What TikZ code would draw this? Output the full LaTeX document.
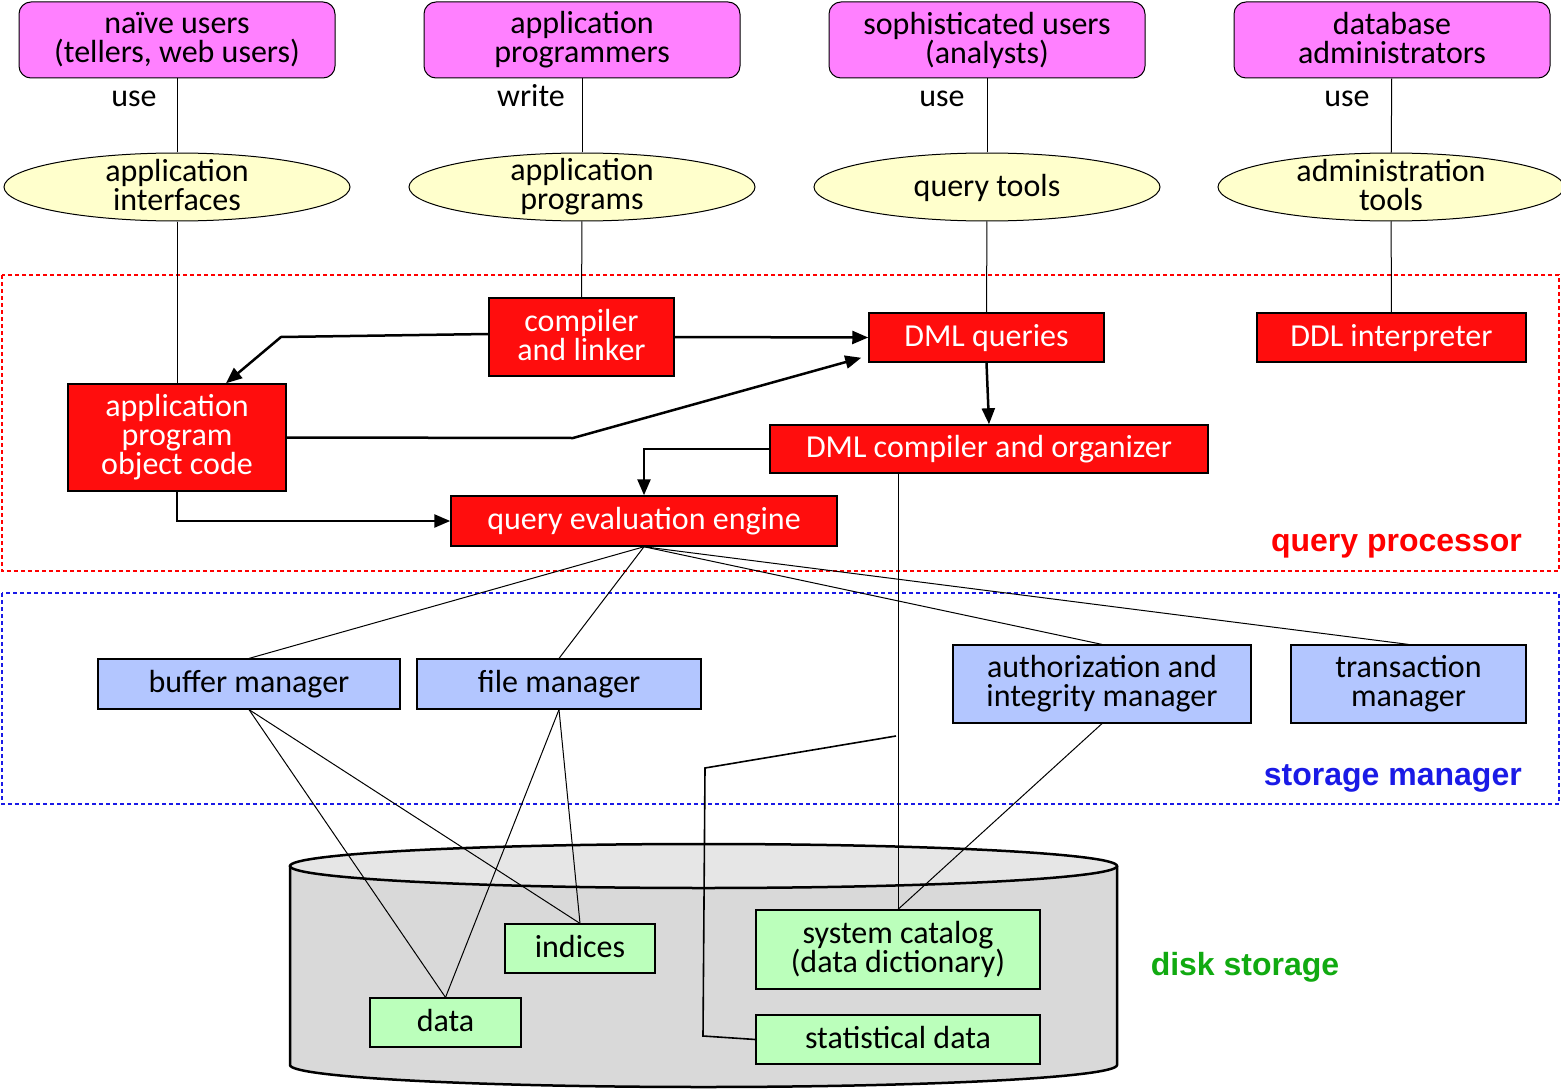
\documentclass[tikz,border=0pt]{standalone}
\usepackage{fontspec}
\setmainfont{Carlito}
\newfontfamily\labfont{Liberation Sans}
\usetikzlibrary{shapes.geometric,arrows.meta}
\definecolor{userfill}{HTML}{FF80FF}
\definecolor{toolfill}{HTML}{FFFFCC}
\definecolor{qpfill}{HTML}{FF0D0D}
\definecolor{smfill}{HTML}{B3C6FF}
\definecolor{dsfill}{HTML}{BBFFBB}
\definecolor{cylbody}{HTML}{D9D9D9}
\definecolor{cyltop}{HTML}{E6E6E6}
\definecolor{qplab}{HTML}{FF0000}
\definecolor{smlab}{HTML}{1A1AE6}
\definecolor{dslab}{HTML}{11AA11}
\begin{document}
\begin{tikzpicture}[x=1pt,y=-1pt,
  every node/.style={font=\fontsize{32}{29}\selectfont, inner sep=0pt, align=center,
    execute at begin node={\vphantom{(}}, execute at end node={\vphantom{(}}},
  userbox/.style={draw, line width=1pt, fill=userfill, rounded corners=12pt, minimum width=316pt, minimum height=76pt},
  toolell/.style={draw, line width=1pt, fill=toolfill, ellipse, inner xsep=-10pt, inner ysep=-12pt, minimum width=346pt, minimum height=68pt},
  qpbox/.style={draw, line width=1.5pt, fill=qpfill, text=white},
  smbox/.style={draw, line width=1.2pt, fill=smfill},
  dsbox/.style={draw, line width=1.2pt, fill=dsfill},
  thin/.style={line width=1pt},
  arr/.style={line width=2.5pt, -{Triangle[length=16pt,width=13pt]}},
  region/.style={dashed, dash pattern=on 4pt off 3pt, line width=1.1pt},
  biglab/.style={font=\labfont\bfseries\fontsize{32}{32}\selectfont}
]
\useasboundingbox (0,0) rectangle (1561,1089);

% regions
\draw[region, draw=qplab] (2,275) rectangle (1559,571);
\draw[region, draw=smlab] (2,593) rectangle (1559,804);
\node[biglab, text=qplab, anchor=east] (qplabel) at (1522,543) {query processor};
\node[biglab, text=smlab, anchor=east] (smlabel) at (1522,777) {storage manager};

% cylinder
\draw[fill=cylbody, line width=2.5pt] (290,866) -- (290,1065) arc[start angle=180, end angle=0, x radius=413.5, y radius=22] -- (1117,866);
\draw[fill=cyltop, line width=2.5pt] (703.5,866) ellipse [x radius=413.5, y radius=22];
\node[biglab, text=dslab] (dslabel) at (1245,967) {disk storage};

% users
\node[userbox] (nu) at (177,40) {naïve users\\(tellers, web users)};
\node[userbox] (ap) at (582,40) {application\\programmers};
\node[userbox] (su) at (987,40) {sophisticated users\\(analysts)};
\node[userbox] (da) at (1392,40) {database\\administrators};

% tools
\node[toolell] (ai) at (177,187) {application\\interfaces};
\node[toolell] (apg) at (582,187) {application\\programs};
\node[toolell] (qt) at (987,187) {query tools};
\node[toolell] (at) at (1391,187) {administration\\tools};

\node (u1) at (134,97) {use};
\node (u2) at (531,97) {write};
\node (u3) at (942,97) {use};
\node (u4) at (1347,97) {use};

% query processor boxes
\node[qpbox, minimum width=185pt, minimum height=78pt] (cl) at (581.5,337) {compiler\\and linker};
\node[qpbox, minimum width=235pt, minimum height=49pt] (dmlq) at (986.5,337.5) {DML queries};
\node[qpbox, minimum width=269pt, minimum height=49pt] (ddl) at (1391.5,337.5) {DDL interpreter};
\node[qpbox, minimum width=218pt, minimum height=107pt] (apoc) at (177,437.5) {application\\program\\object code};
\node[qpbox, minimum width=438pt, minimum height=48pt] (dmlc) at (989,449) {DML compiler and organizer};
\node[qpbox, minimum width=386pt, minimum height=50pt] (qee) at (644,521) {query evaluation engine};

% storage manager boxes
\node[smbox, minimum width=302pt, minimum height=50pt] (bm) at (249,684) {buffer manager};
\node[smbox, minimum width=284pt, minimum height=50pt] (fm) at (559,684) {file manager};
\node[smbox, minimum width=298pt, minimum height=78pt] (aim) at (1102,684) {authorization and\\integrity manager};
\node[smbox, minimum width=235pt, minimum height=78pt] (tm) at (1408.5,684) {transaction\\manager};

% disk storage boxes
\node[dsbox, minimum width=150pt, minimum height=49pt] (idx) at (580,948.5) {indices};
\node[dsbox, minimum width=151pt, minimum height=49pt] (dat) at (445.5,1022.5) {data};
\node[dsbox, minimum width=284pt, minimum height=79pt] (sc) at (898,949.5) {system catalog\\(data dictionary)};
\node[dsbox, minimum width=284pt, minimum height=49pt] (sd) at (898,1039.5) {statistical data};

% user -> tool lines
\draw[thin] (nu) -- (ai);
\draw[thin] (ap) -- (apg);
\draw[thin] (su) -- (qt);
\draw[thin] (da) -- (at);
% tool -> processor lines
\draw[thin] (ai) -- (apoc);
\draw[thin] (apg) -- (cl);
\draw[thin] (qt) -- (dmlq);
\draw[thin] (at) -- (ddl);

% arrows
\draw[arr] ([yshift=3pt]cl.west) -- (281,337) -- ([xshift=49pt]apoc.north);
\draw[arr] (cl.east) -- (dmlq.west);
\draw[arr] (apoc.east) -- (573,438) -- ([xshift=-7pt,yshift=5pt]dmlq.south west);
\draw[arr] (dmlq.south) -- (dmlc.north);
\draw[arr] (dmlc.west) -| (qee.north);
\draw[arr] (apoc.south) |- (qee.west);

% query evaluation engine -> storage manager
\draw[thin] (qee.south) -- (bm.north);
\draw[thin] (qee.south) -- (fm.north);
\draw[thin] (qee.south) -- (aim.north);
\draw[thin] (qee.south) -- (tm.north);

% DML compiler -> system catalog
\draw[thin] (sc.north) -- (sc.north |- dmlc.south);
\draw[thin] (aim.south) -- (sc.north);

% storage manager -> disk
\draw[thin] (bm.south) -- (dat.north);
\draw[thin] (bm.south) -- (idx.north);
\draw[thin] (fm.south) -- (dat.north);
\draw[thin] (fm.south) -- (idx.north);

% statistical data link
\coordinate (sdend) at (896,736);
\draw[line width=1.6pt] (sd.west) -- (703,1036) -- (705,768) -- (sdend);
\end{tikzpicture}
\end{document}
